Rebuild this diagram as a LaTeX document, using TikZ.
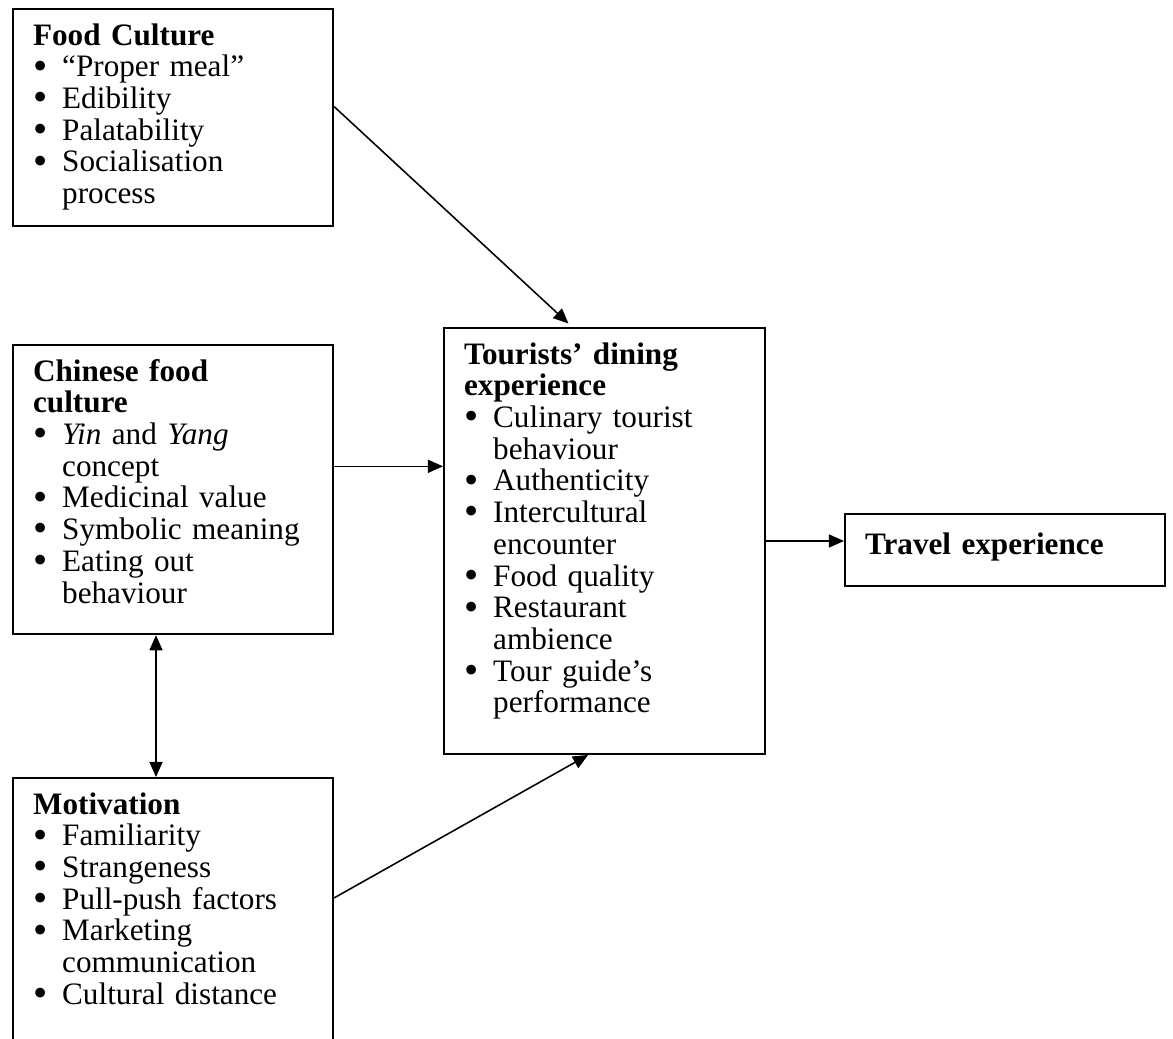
\documentclass[tikz,border=0pt]{standalone}
\usepackage{fontspec}
\setmainfont{Liberation Serif}
\usetikzlibrary{arrows.meta,calc}

\newcommand{\bul}{\makebox[11.2pt][l]{\raisebox{-0.9pt}{\scalebox{1.3}{\textbullet}}}}
\newcommand{\cont}{\hspace*{11.2pt}}

\begin{document}
\begin{tikzpicture}[
            x=0.3846pt, y=-0.3846pt,
            box/.style={draw, line width=0.8pt, anchor=north west, align=left,
              inner xsep=7.7pt, inner ysep=0pt, text width=107.7pt,
              text height=13.85pt, font=\fontsize{12}{12.2}\selectfont},
            link/.style={->, line width=0.6pt},
            >={Triangle[length=5.8pt,width=5pt]}
        ]
            \useasboundingbox (0,0) rectangle (1173,1039);
            \clip (0,0) rectangle (1173,1039);

            % Boxes
            \node[box, text depth=69.65pt] (food) at (12,8) {\textbf{Food Culture}\\
              \bul``Proper meal''\\ \bul Edibility\\ \bul Palatability\\
              \bul Socialisation\\ \cont process};
            \node[box, text depth=97.35pt] (chin) at (12,344) {\textbf{Chinese food}\\ \textbf{culture}\\
              \bul\textit{Yin} and \textit{Yang}\\ \cont concept\\ \bul Medicinal value\\
              \bul Symbolic meaning\\ \bul Eating out\\ \cont behaviour};
            \node[box, text depth=93.85pt] (moti) at (12,777) {\textbf{Motivation}\\
              \bul Familiarity\\ \bul Strangeness\\ \bul Pull-push factors\\
              \bul Marketing\\ \cont communication\\ \bul Cultural distance};
            \node[box, text width=108.1pt, text depth=149.95pt] (dine) at (443,327) {\textbf{Tourists' dining}\\ \textbf{experience}\\
              \bul Culinary tourist\\ \cont behaviour\\ \bul Authenticity\\
              \bul Intercultural\\ \cont encounter\\ \bul Food quality\\
              \bul Restaurant\\ \cont ambience\\ \bul Tour guide's\\ \cont performance};
            \node[box, text height=15.4pt, text depth=12.3pt] (trav) at (844,513) {\textbf{Travel experience}};

            % Connection points
            \coordinate (c1) at ($(chin.north east)!0.42!(chin.south east)$);

            % Arrows
            \draw[link, shorten >=2pt] ($(food.north east)!0.45!(food.south east)$) -- ($(dine.north west)!0.4!(dine.north east)$);
            \draw[link] (c1) -- (c1 -| dine.west);
            \draw[link, <->] ($(chin.south west)!0.447!(chin.south east)$) -- ($(moti.north west)!0.447!(moti.north east)$);
            \draw[link] ($(moti.north east)!0.4286!(moti.south east)$) -- ($(dine.south west)!0.449!(dine.south east)$);
            \draw[link] (dine.east) -- (dine.east -| trav.west);
        \end{tikzpicture}
\end{document}
